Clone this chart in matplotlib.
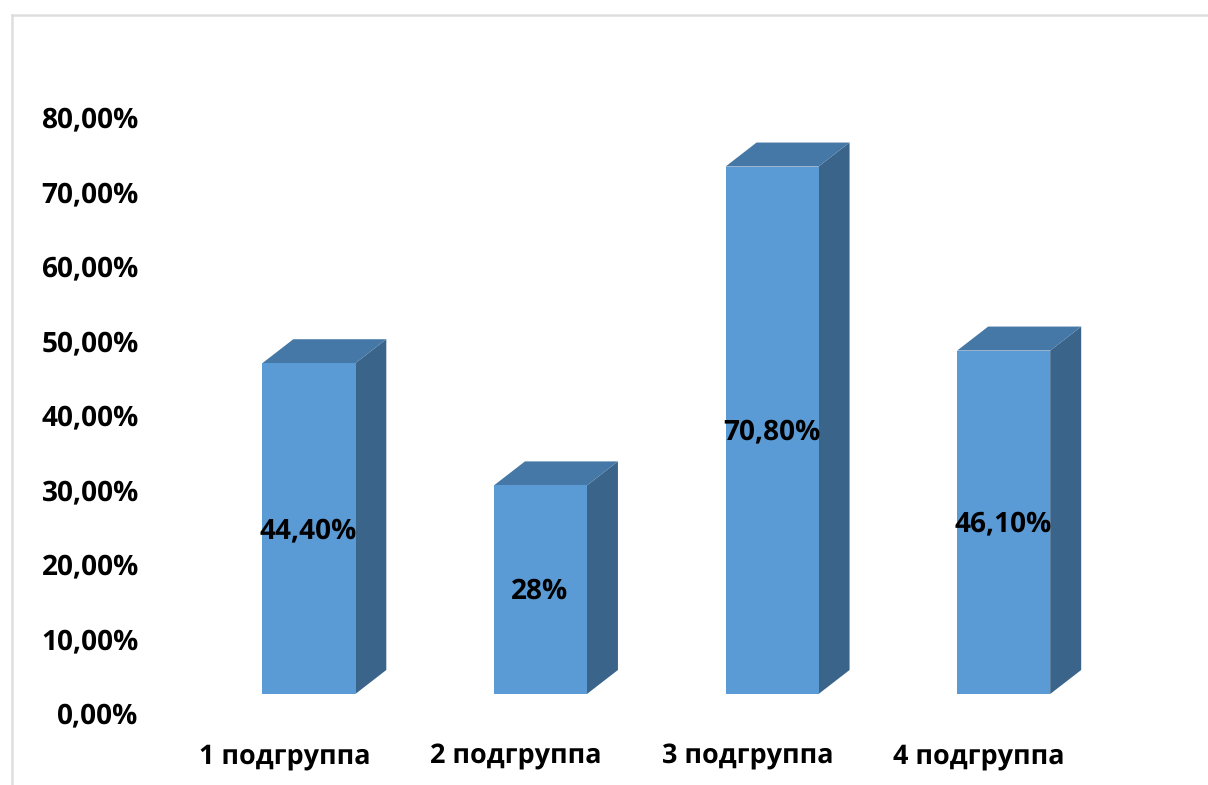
import matplotlib
matplotlib.use("Agg")
import matplotlib.pyplot as plt
from matplotlib.patches import Polygon
from matplotlib.lines import Line2D

categories = ["1 подгруппа", "2 подгруппа", "3 подгруппа", "4 подгруппа"]
values = [44.4, 28.0, 70.8, 46.1]
value_labels = ["44,40%", "28%", "70,80%", "46,10%"]
axis_ticks = [0, 10, 20, 30, 40, 50, 60, 70, 80]
axis_labels = ["0,00%", "10,00%", "20,00%", "30,00%", "40,00%",
               "50,00%", "60,00%", "70,00%", "80,00%"]

W, H = 1208, 785
FRONT = "#5B9BD5"
TOP = "#4578A6"
SIDE = "#3A6489"
FRAME = "#DEDEDE"
FONT = "Open Sans"
FS_AXIS = 20.1
FS_CAT = 19.3
FS_VALUE = 20.5

plt.rcParams["font.family"] = [FONT, "DejaVu Sans"]
plt.rcParams["text.hinting"] = "no_hinting"
plt.rcParams["text.hinting_factor"] = 1
fig = plt.figure(figsize=(W / 100, H / 100), dpi=100, facecolor="white")


def axes_from_pixels(left, right, top, bottom):
    return fig.add_axes([left / W, 1 - bottom / H, (right - left) / W, (bottom - top) / H])


# Bars and category labels share one axes; the value axis sits lower by the box depth.
PX_PER_UNIT = 7.45
LEFT, RIGHT = 193, 1119.5
ax_bars = axes_from_pixels(LEFT, RIGHT, 694 - 80 * PX_PER_UNIT, 694)
ax_bars.set_xlim(-0.5, 3.5)
ax_bars.set_ylim(0, 80)
ax_bars.patch.set_alpha(0)
for s in ax_bars.spines.values():
    s.set_visible(False)

ax_vals = axes_from_pixels(145, 1120, 713 - 80 * PX_PER_UNIT, 713)
ax_vals.set_ylim(0, 80)
ax_vals.patch.set_alpha(0)
for s in ax_vals.spines.values():
    s.set_visible(False)
ax_vals.set_xticks([])
ax_vals.set_yticks(axis_ticks, axis_labels, fontsize=FS_AXIS, fontweight="bold", color="black")
ax_vals.tick_params(axis="y", length=0, pad=4.5)

x_per_px = 4 / (RIGHT - LEFT)
depth_x = 31 * x_per_px
depth_y = 24 / PX_PER_UNIT
half = 93 / 2 * x_per_px
xs = list(range(len(values)))

ax_bars.bar(xs, values, width=2 * half, color=FRONT, linewidth=0, zorder=3)
for x, v, lab in zip(xs, values, value_labels):
    r, l = x + half, x - half
    # Right-hand face and lid of the box, offset by the depth.
    ax_bars.add_patch(Polygon([(r, 0), (r + depth_x, depth_y), (r + depth_x, v + depth_y), (r, v)],
                              closed=True, facecolor=SIDE, edgecolor="none", zorder=2, clip_on=False))
    ax_bars.add_patch(Polygon([(l, v), (l + depth_x, v + depth_y), (r + depth_x, v + depth_y), (r, v)],
                              closed=True, facecolor=TOP, edgecolor="none", zorder=2, clip_on=False))
    ax_bars.annotate(lab, (x, v / 2), xytext=(-0.4, -1.6), textcoords="offset points",
                     ha="center", va="center", fontsize=FS_VALUE, fontweight="bold",
                     color="black", zorder=5)

# Category labels sit left of the bar centres, under the back wall's floor.
cat_shift = 24.5 * x_per_px
ax_bars.set_xticks([x - cat_shift for x in xs], categories, fontsize=FS_CAT,
                   fontweight="bold", color="black")
ax_bars.tick_params(axis="x", length=0, pad=35.5)
ax_bars.set_yticks([])

# Chart-area frame: only the top and left edges fall inside the figure.
for xd, yd in (([11.5, 11.5], [785, 15]), ([11.5, 1208], [15, 15])):
    fig.add_artist(Line2D([p / W for p in xd], [1 - p / H for p in yd],
                          color=FRAME, linewidth=1.8))

fig.savefig("out.png", dpi=100)
